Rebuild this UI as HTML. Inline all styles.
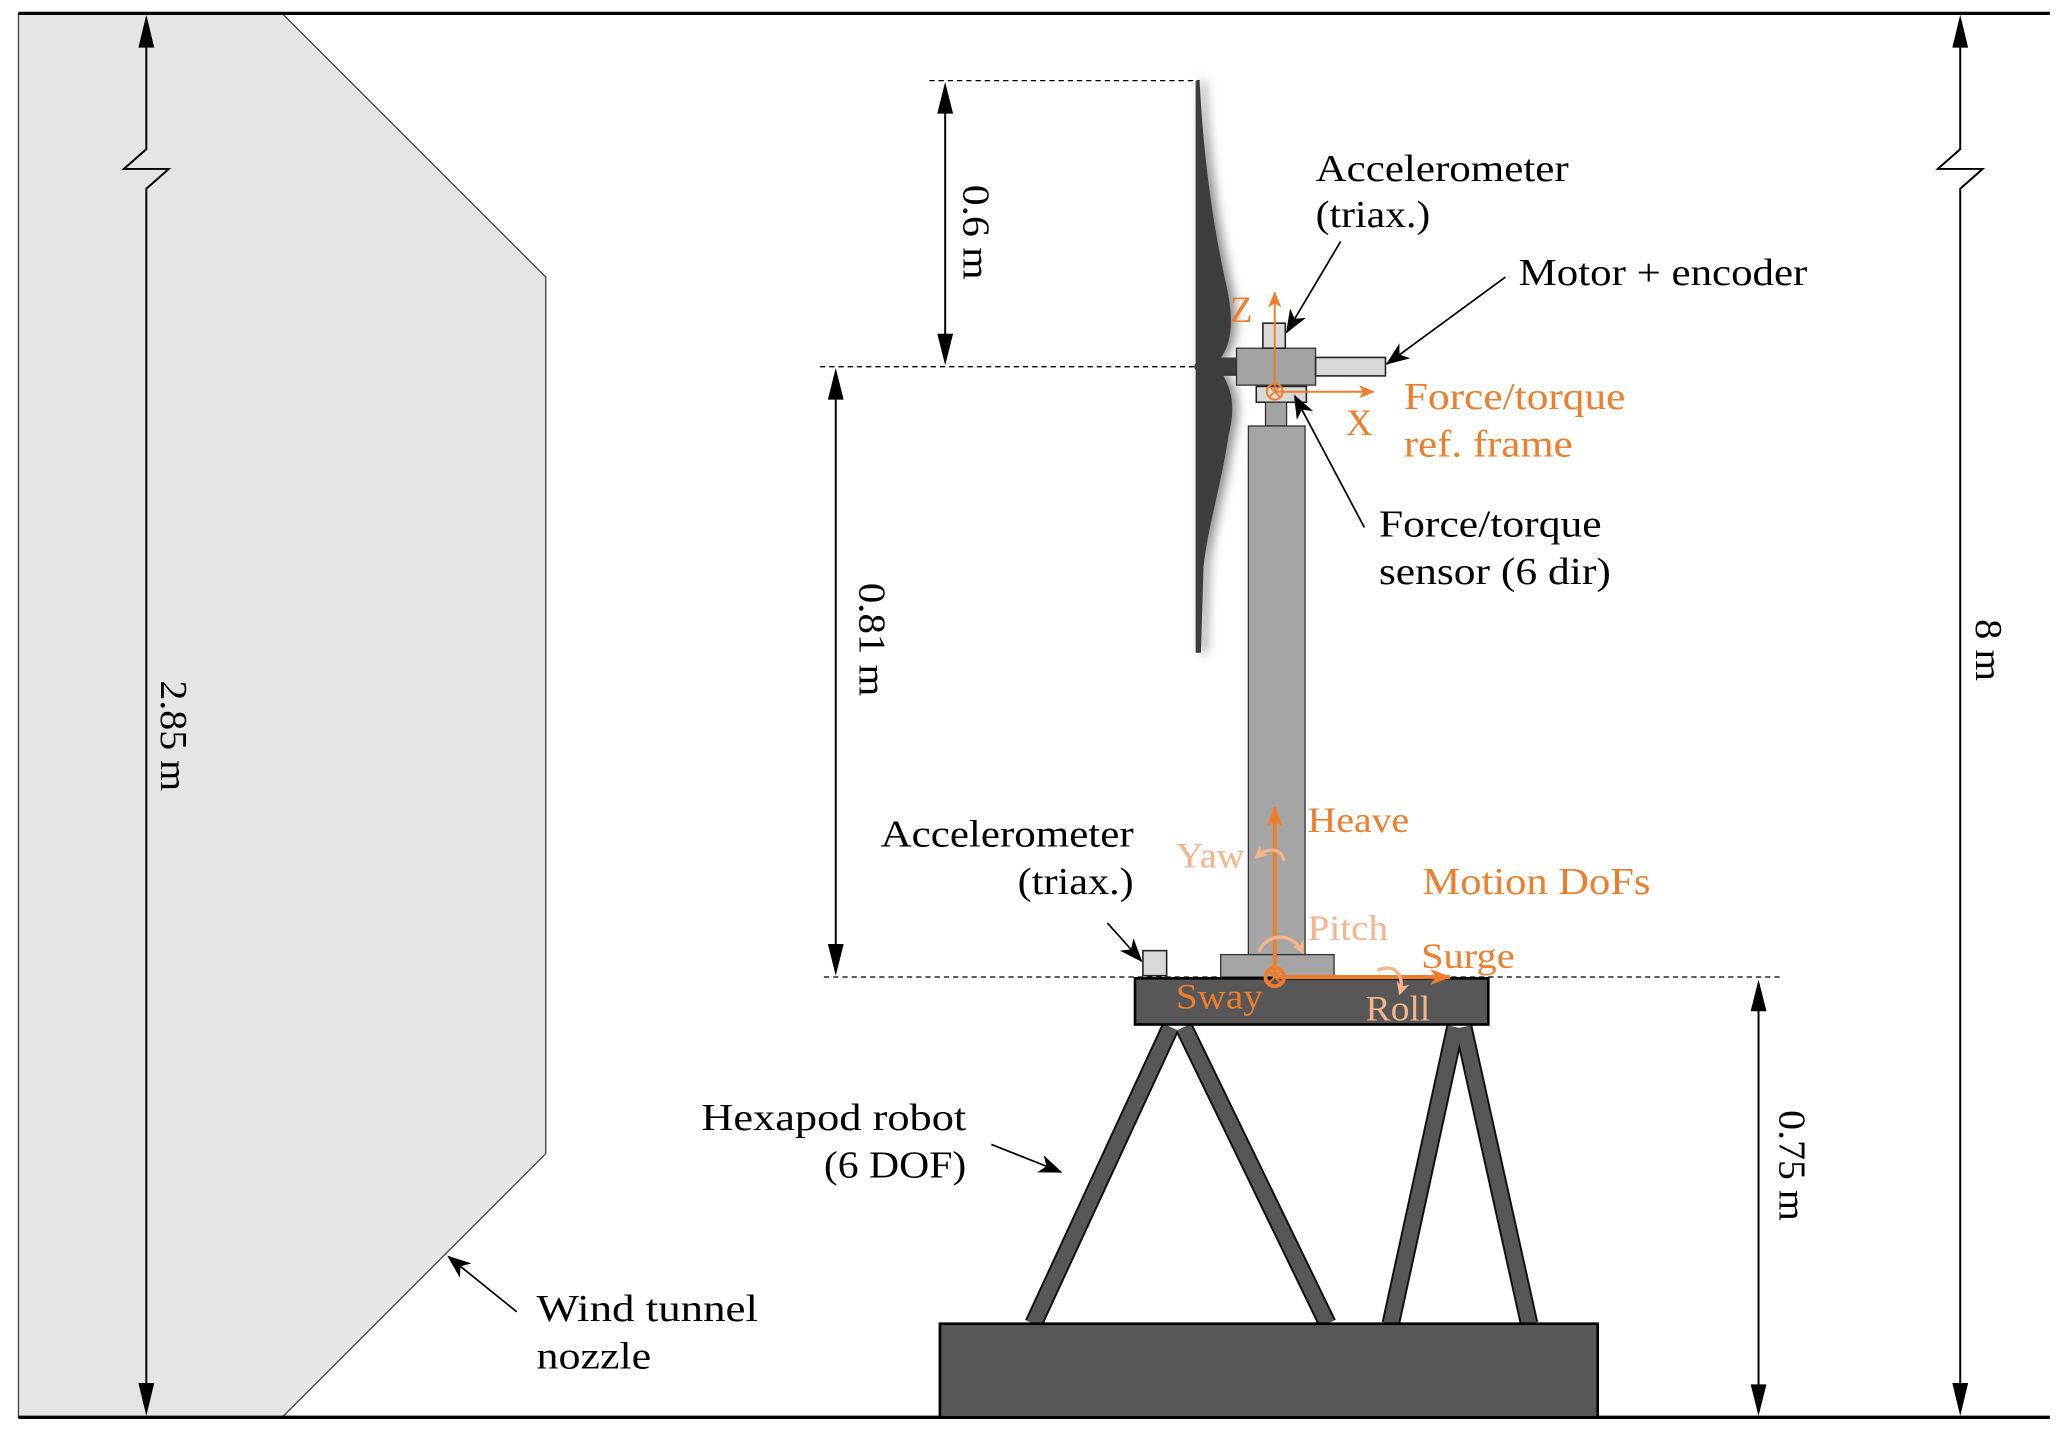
<!DOCTYPE html>
<html><head><meta charset="utf-8"><style>
html,body{margin:0;padding:0;background:#fff}
svg{display:block}
text{font-family:"Liberation Serif",serif}
</style></head><body>
<svg width="2067" height="1432" viewBox="0 0 1568 1086" xmlns="http://www.w3.org/2000/svg">
<defs>
<marker id="ap" markerWidth="18" markerHeight="14" refX="17" refY="7" orient="auto" markerUnits="userSpaceOnUse"><path d="M0,0 L18,7 L0,14 L5,7 Z" fill="#000"/></marker>
<marker id="ao" markerWidth="12" markerHeight="10" refX="11" refY="5" orient="auto" markerUnits="userSpaceOnUse"><path d="M0,0 L12,5 L0,10 L3,5 Z" fill="#ef7d2c"/></marker>
<marker id="ao2" markerWidth="16" markerHeight="12" refX="15" refY="6" orient="auto" markerUnits="userSpaceOnUse"><path d="M0,0 L16,6 L0,12 L4,6 Z" fill="#ef7d2c"/></marker>
<marker id="al" markerWidth="10" markerHeight="10" refX="8" refY="5" orient="auto" markerUnits="userSpaceOnUse"><path d="M0,0 L10,5 L0,10 L3,5 Z" fill="#f5b48a"/></marker>
<filter id="sh" x="-50%" y="-10%" width="200%" height="120%"><feGaussianBlur stdDeviation="4"/></filter>
</defs>

<polygon points="14,10 214,10 414,210 414,875 214,1075 14,1075" fill="#e5e5e5" stroke="#444" stroke-width="1"/>
<line x1="14" y1="10" x2="1555" y2="10" stroke="#000" stroke-width="2.5"/>
<line x1="14" y1="1075" x2="1555" y2="1075" stroke="#000" stroke-width="2.5"/>

<polyline points="111,22 111,113 94,128 128,128 111,143 111,1063" fill="none" stroke="#000" stroke-width="1.5"/>
<path d="M111,11 L105,36 L117,36 Z"/><path d="M111,1074 L105,1049 L117,1049 Z"/>
<text font-size="29" transform="translate(122,558) rotate(90)" text-anchor="middle" textLength="84" lengthAdjust="spacingAndGlyphs">2.85 m</text>

<polyline points="1487,22 1487,113 1470,128 1504,128 1487,143 1487,1063" fill="none" stroke="#000" stroke-width="1.5"/>
<path d="M1487,11 L1481,36 L1493,36 Z"/><path d="M1487,1074 L1481,1049 L1493,1049 Z"/>
<text font-size="29" transform="translate(1499,493) rotate(90)" text-anchor="middle" textLength="47" lengthAdjust="spacingAndGlyphs">8 m</text>

<line x1="1334" y1="760" x2="1334" y2="1058" stroke="#000" stroke-width="1.5"/>
<path d="M1334,743 L1328,767 L1340,767 Z"/><path d="M1334,1074 L1328,1050 L1340,1050 Z"/>
<text font-size="29" transform="translate(1350,884) rotate(90)" text-anchor="middle" textLength="84" lengthAdjust="spacingAndGlyphs">0.75 m</text>

<line x1="717" y1="75" x2="717" y2="264" stroke="#000" stroke-width="1.5"/>
<path d="M717,62 L711,86 L723,86 Z"/><path d="M717,277 L711,253 L723,253 Z"/>
<text font-size="29" transform="translate(731,176) rotate(90)" text-anchor="middle" textLength="72" lengthAdjust="spacingAndGlyphs">0.6 m</text>

<line x1="634" y1="292" x2="634" y2="727" stroke="#000" stroke-width="1.5"/>
<path d="M634,279 L628,303 L640,303 Z"/><path d="M634,740 L628,716 L640,716 Z"/>
<text font-size="29" transform="translate(652,485) rotate(90)" text-anchor="middle" textLength="86" lengthAdjust="spacingAndGlyphs">0.81 m</text>

<line x1="705" y1="61" x2="910" y2="61" stroke="#000" stroke-width="1" stroke-dasharray="4,3"/>
<line x1="622" y1="278" x2="908" y2="278" stroke="#000" stroke-width="1" stroke-dasharray="4,3"/>
<line x1="625" y1="741" x2="1352" y2="741" stroke="#000" stroke-width="1" stroke-dasharray="4,3"/>

<path d="M910,61 C913,120 920,170 930,215 C937,245 934,265 922,276 C934,292 938,305 932,330 C926,370 916,400 913,430 L911,495 L907,495 L907,61 Z" fill="#888" filter="url(#sh)" transform="translate(4,0)"/>
<path d="M910,61 C913,120 920,170 930,215 C937,245 934,265 922,276 C934,292 938,305 932,330 C926,370 916,400 913,430 L911,495 L907,495 L907,61 Z" fill="#3d3d3d"/>
<circle cx="910" cy="278" r="4" fill="#3d3d3d"/>
<rect x="910" y="271" width="30" height="14" fill="#3d3d3d"/>

<rect x="938" y="264" width="60" height="28" fill="#a3a3a3" stroke="#333" stroke-width="1"/>
<rect x="998" y="271" width="53" height="14" fill="#d9d9d9" stroke="#222" stroke-width="1.2"/>
<rect x="958" y="245" width="17" height="19" fill="#d9d9d9" stroke="#222" stroke-width="1.2"/>
<rect x="953" y="293" width="38" height="12" fill="#d9d9d9" stroke="#222" stroke-width="1.2"/>
<rect x="960" y="305" width="16" height="18" fill="#a3a3a3" stroke="#333" stroke-width="1"/>
<rect x="947" y="323" width="43" height="402" fill="#a5a5a5" stroke="#333" stroke-width="1"/>
<rect x="926" y="724" width="86" height="17" fill="#a5a5a5" stroke="#333" stroke-width="1"/>
<rect x="867" y="721" width="18" height="19" fill="#d9d9d9" stroke="#222" stroke-width="1.2"/>

<g stroke-linecap="butt">
<line x1="888" y1="779" x2="784" y2="1004" stroke="#111" stroke-width="14"/>
<line x1="898" y1="779" x2="1007" y2="1004" stroke="#111" stroke-width="14"/>
<line x1="1104" y1="779" x2="1055" y2="1004" stroke="#111" stroke-width="14"/>
<line x1="1110" y1="779" x2="1160" y2="1004" stroke="#111" stroke-width="14"/>
<line x1="888" y1="779" x2="784" y2="1004" stroke="#575757" stroke-width="11"/>
<line x1="898" y1="779" x2="1007" y2="1004" stroke="#575757" stroke-width="11"/>
<line x1="1104" y1="779" x2="1055" y2="1004" stroke="#575757" stroke-width="11"/>
<line x1="1110" y1="779" x2="1160" y2="1004" stroke="#575757" stroke-width="11"/>
</g>
<rect x="861" y="742" width="268" height="35" fill="#575757" stroke="#000" stroke-width="2"/>
<rect x="713" y="1004" width="499" height="71" fill="#575757" stroke="#000" stroke-width="2"/>

<line x1="967" y1="297" x2="967" y2="222" stroke="#ef7d2c" stroke-width="1.5" marker-end="url(#ao)"/>
<line x1="967" y1="297" x2="1042" y2="297" stroke="#ef7d2c" stroke-width="1.5" marker-end="url(#ao)"/>
<circle cx="967" cy="297" r="6" fill="none" stroke="#ef7d2c" stroke-width="1.5"/>
<path d="M963,293 L971,301 M971,293 L963,301" stroke="#ef7d2c" stroke-width="1.3"/>
<text x="933" y="244" font-size="28" fill="#ef7d2c">Z</text>
<text x="1021" y="330" font-size="28" fill="#ef7d2c">X</text>
<text x="1065" y="310" font-size="29" fill="#ef7d2c" textLength="168" lengthAdjust="spacingAndGlyphs">Force/torque</text>
<text x="1065" y="346" font-size="29" fill="#ef7d2c" textLength="128" lengthAdjust="spacingAndGlyphs">ref. frame</text>

<line x1="967" y1="741" x2="967" y2="612" stroke="#ef7d2c" stroke-width="3" marker-end="url(#ao2)"/>
<line x1="967" y1="741" x2="1100" y2="741" stroke="#ef7d2c" stroke-width="3" marker-end="url(#ao2)"/>
<circle cx="967" cy="741" r="7" fill="none" stroke="#ef7d2c" stroke-width="3"/>
<path d="M963,737 L971,745 M971,737 L963,745" stroke="#ef7d2c" stroke-width="1.5"/>
<path d="M974,653 C972,643 962,642 953,650" fill="none" stroke="#f5b48a" stroke-width="2.5" marker-end="url(#al)"/>
<path d="M955,722 C960,708 980,706 988,722" fill="none" stroke="#f5b48a" stroke-width="2.5" marker-end="url(#al)"/>
<path d="M1045,736 C1058,730 1066,740 1062,753" fill="none" stroke="#f5b48a" stroke-width="2.5" marker-end="url(#al)"/>
<text x="992" y="631" font-size="27" fill="#ef7d2c" textLength="77" lengthAdjust="spacingAndGlyphs">Heave</text>
<text x="892" y="658" font-size="27" fill="#f5b48a" textLength="52" lengthAdjust="spacingAndGlyphs">Yaw</text>
<text x="992" y="713" font-size="27" fill="#f5b48a" textLength="61" lengthAdjust="spacingAndGlyphs">Pitch</text>
<text x="1078" y="734" font-size="27" fill="#ef7d2c" textLength="71" lengthAdjust="spacingAndGlyphs">Surge</text>
<text x="892" y="765" font-size="27" fill="#ef7d2c" textLength="66" lengthAdjust="spacingAndGlyphs">Sway</text>
<text x="1036" y="774" font-size="27" fill="#f5b48a" textLength="49" lengthAdjust="spacingAndGlyphs">Roll</text>
<text x="1079" y="678" font-size="29" fill="#ef7d2c" textLength="173" lengthAdjust="spacingAndGlyphs">Motion DoFs</text>

<g font-size="29" fill="#000">
<text x="998" y="137" textLength="192" lengthAdjust="spacingAndGlyphs">Accelerometer</text>
<text x="998" y="172" textLength="87" lengthAdjust="spacingAndGlyphs">(triax.)</text>
<text x="1152" y="216" textLength="219" lengthAdjust="spacingAndGlyphs">Motor + encoder</text>
<text x="1046" y="407" textLength="169" lengthAdjust="spacingAndGlyphs">Force/torque</text>
<text x="1046" y="443" textLength="176" lengthAdjust="spacingAndGlyphs">sensor (6 dir)</text>
<text x="668" y="642" textLength="192" lengthAdjust="spacingAndGlyphs">Accelerometer</text>
<text x="772" y="678" textLength="88" lengthAdjust="spacingAndGlyphs">(triax.)</text>
<text x="532" y="857" textLength="201" lengthAdjust="spacingAndGlyphs">Hexapod robot</text>
<text x="625" y="893" textLength="108" lengthAdjust="spacingAndGlyphs">(6 DOF)</text>
<text x="407" y="1002" textLength="168" lengthAdjust="spacingAndGlyphs">Wind tunnel</text>
<text x="407" y="1038" textLength="87" lengthAdjust="spacingAndGlyphs">nozzle</text>
</g>
<g stroke="#000" stroke-width="1.3" fill="none">
<line x1="1017" y1="183" x2="976" y2="252" marker-end="url(#ap)"/>
<line x1="1142" y1="210" x2="1052" y2="276" marker-end="url(#ap)"/>
<line x1="1035" y1="400" x2="982" y2="300" marker-end="url(#ap)"/>
<line x1="840" y1="700" x2="866" y2="729" marker-end="url(#ap)"/>
<line x1="752" y1="868" x2="805" y2="889" marker-end="url(#ap)"/>
<line x1="392" y1="995" x2="340" y2="953" marker-end="url(#ap)"/>
</g>
</svg>
</body></html>
